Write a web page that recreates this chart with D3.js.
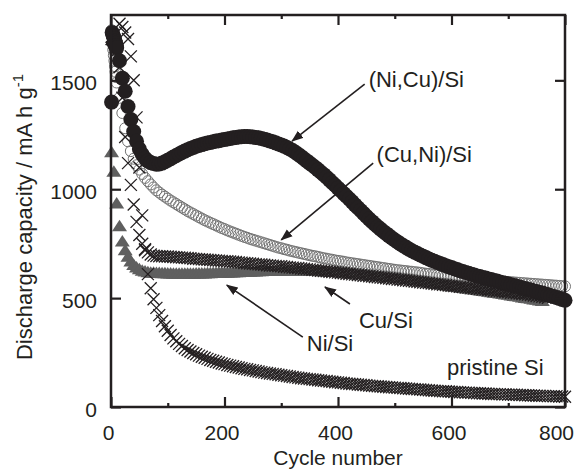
<!DOCTYPE html>
<html>
<head>
<meta charset="utf-8">
<script src="https://cdn.jsdelivr.net/npm/d3@7"></script>
<style>
  body { margin: 0; background: #fff; }
  svg { display: block; font-family: "Liberation Sans", Arial, sans-serif; }
  .tick text { font-size: 21px; fill: #231f20; }
  .tick line { stroke: #231f20; stroke-width: 2.2; }
  .annot { font-size: 22px; fill: #231f20; }
  .axis-title { font-size: 22px; fill: #231f20; }
  .x-title { font-size: 21px; }
</style>
</head>
<body>
<svg id="chart"></svg>
<script>
const cycles = [1, 2, 3, 4, 5, 6, 7, 8, 9, 10, 15, 20, 25, 30, 35, 40, 45, 50, 55, 60, 65, 70, 75]
  .concat(d3.range(80, 801, 5));

// (Ni,Cu)/Si - filled black circles
const niCuSi = [1400, 1720, 1712, 1705, 1698, 1690, 1680, 1670, 1660, 1650, 1590, 1510, 1450, 1380, 1320, 1265, 1220, 1185, 1160, 1142, 1130, 1122, 1118,
  1115, 1116, 1120, 1126, 1133, 1140, 1148, 1155, 1162, 1169,
  1175, 1181, 1187, 1192, 1197, 1201, 1205, 1209, 1212, 1215,
  1218, 1221, 1223, 1226, 1228, 1231, 1233, 1236, 1238, 1240,
  1241, 1242, 1242, 1241, 1240, 1238, 1236, 1233, 1230, 1226,
  1222, 1218, 1213, 1208, 1203, 1198, 1192, 1185, 1178, 1169,
  1160, 1150, 1140, 1130, 1120, 1110, 1100, 1089, 1078, 1067,
  1055, 1043, 1030, 1018, 1005, 993, 980, 968, 955, 942,
  928, 915, 902, 889, 876, 863, 851, 839, 828, 817,
  806, 796, 786, 776, 767, 758, 749, 741, 733, 725,
  718, 711, 705, 698, 692, 686, 680, 674, 669, 664,
  659, 654, 649, 644, 640, 635, 631, 626, 622, 618,
  614, 610, 606, 602, 599, 595, 592, 588, 585, 581,
  578, 574, 571, 568, 565, 561, 558, 554, 551, 547,
  544, 540, 537, 533, 530, 526, 523, 519, 515, 511,
  507, 503, 499, 494, 490];

// (Cu,Ni)/Si - open grey circles
const cuNiSi = [1730, 1700, 1670, 1640, 1615, 1590, 1565, 1540, 1515, 1490, 1420, 1350, 1280, 1220, 1175, 1140, 1110, 1090, 1070, 1052, 1037, 1022, 1008,
  995, 985, 975, 966, 957, 948, 940, 932, 924, 916,
  908, 900, 893, 886, 879, 872, 865, 858, 852, 846,
  840, 834, 828, 822, 817, 811, 806, 801, 796, 791,
  786, 781, 777, 772, 768, 764, 760, 756, 752, 748,
  744, 740, 736, 732, 729, 725, 722, 718, 715, 712,
  709, 706, 703, 700, 697, 694, 692, 689, 686, 683,
  681, 678, 676, 673, 671, 669, 667, 664, 662, 660,
  658, 656, 654, 652, 650, 648, 646, 644, 642, 640,
  638, 636, 634, 632, 630, 628, 627, 625, 624, 622,
  621, 619, 618, 616, 614, 612, 611, 609, 608, 606,
  605, 603, 602, 600, 599, 597, 596, 594, 593, 591,
  590, 589, 588, 586, 585, 584, 583, 581, 580, 579,
  578, 577, 576, 575, 574, 573, 572, 571, 570, 569,
  568, 567, 566, 565, 564, 563, 562, 561, 560, 559,
  558, 557, 556, 555, 554];

// Cu/Si - crosses
const cuSi = [1700, 1700, 1695, 1690, 1685, 1675, 1665, 1655, 1645, 1635, 1560, 1420, 1240, 1120, 1020, 930, 850, 790, 750, 725, 710, 700, 695,
  693, 692, 692, 691, 691, 690, 689, 688, 687, 686,
  685, 684, 683, 681, 680, 679, 678, 677, 676, 675,
  674, 673, 672, 671, 670, 669, 668, 667, 666, 664,
  663, 661, 660, 659, 658, 656, 655, 654, 653, 651,
  650, 649, 648, 647, 646, 644, 643, 641, 640, 639,
  638, 636, 635, 633, 632, 630, 629, 627, 626, 624,
  623, 621, 620, 618, 617, 615, 614, 612, 611, 609,
  608, 606, 605, 603, 602, 600, 599, 597, 596, 594,
  593, 591, 590, 588, 587, 585, 584, 582, 581, 579,
  578, 576, 575, 573, 572, 570, 569, 567, 566, 564,
  563, 561, 560, 558, 557, 555, 554, 552, 551, 549,
  548, 546, 545, 543, 542, 540, 539, 537, 536, 534,
  533, 531, 530, 528, 527, 525, 524, 522, 521, 519,
  518, 516, 514, 512, 510, 508, 506, 504, 502, null,
  null, null, null, null, null];

// Ni/Si - filled grey triangles
const niSi = [1170, null, null, null, 1080, null, null, null, null, 935, 830, 760, 720, 690, 668, 652, 640, 632, 626, 622, 619, 617, 616,
  615, 615, 614, 614, 613, 613, 612, 612, 612, 612,
  612, 612, 612, 612, 613, 613, 613, 613, 614, 614,
  615, 615, 616, 616, 617, 617, 618, 618, 619, 619,
  620, 620, 621, 621, 622, 622, 623, 623, 624, 624,
  624, 624, 625, 625, 625, 625, 625, 625, 625, 625,
  625, 625, 625, 625, 625, 625, 624, 624, 623, 623,
  622, 622, 621, 621, 620, 619, 618, 617, 616, 614,
  613, 612, 611, 609, 608, 607, 606, 604, 603, 601,
  600, 599, 598, 596, 595, 593, 592, 590, 588, 587,
  585, 583, 581, 580, 578, 576, 574, 571, 569, 566,
  564, 562, 560, 557, 555, 553, 551, 549, 547, 545,
  543, 541, 539, 537, 535, 533, 531, 529, 527, 525,
  523, 521, 519, 517, 515, 512, 510, 508, 506, 503,
  501, 499, 497, 494, 492, 489, 487, null, null, null,
  null, null, null, null, null];

// pristine Si - crosses
const pristineSi = [1690, 1690, 1690, 1685, 1680, 1675, 1670, 1665, 1660, 1655, 1760, 1745, 1720, 1690, 1610, 1500, 1330, 1100, 880, 720, 610, 545, 495,
  455, 422, 395, 371, 350, 331, 315, 302, 290, 280,
  270, 262, 255, 248, 242, 236, 231, 226, 221, 216,
  212, 208, 204, 200, 197, 193, 190, 187, 184, 181,
  178, 175, 173, 170, 168, 165, 163, 160, 158, 156,
  154, 152, 150, 148, 146, 144, 142, 140, 138, 136,
  134, 132, 131, 129, 128, 126, 125, 123, 122, 120,
  119, 117, 116, 114, 113, 111, 110, 108, 107, 106,
  105, 103, 102, 101, 100, 98, 97, 96, 95, 94,
  93, 92, 91, 90, 89, 88, 87, 86, 85, 84,
  83, 82, 81, 80, 79, 78, 77, 76, 75, 74,
  73, 72, 72, 71, 70, 69, 69, 68, 67, 66,
  66, 65, 64, 63, 63, 62, 62, 61, 60, 60,
  59, 59, 58, 58, 57, 57, 56, 56, 55, 55,
  54, 54, 53, 53, 52, 52, 51, 51, 50, 50,
  49, 49, 48, 48, 47];

const xTicks = [0, 200, 400, 600, 800];
const xMinorTicks = [100, 300, 500, 700];
const yTicks = [0, 500, 1000, 1500];

class CapacityChart {

  constructor(_config) {
    this.config = {
      parentElement: _config.parentElement,
      containerWidth: _config.containerWidth || 581,
      containerHeight: _config.containerHeight || 470,
      margin: _config.margin || { top: 15, right: 16, bottom: 63, left: 111 }
    };
    this.initVis();
  }

  initVis() {
    let vis = this;

    vis.width = vis.config.containerWidth - vis.config.margin.left - vis.config.margin.right;
    vis.height = vis.config.containerHeight - vis.config.margin.top - vis.config.margin.bottom;

    vis.xScale = d3.scaleLinear().domain([0, 800]).range([0, vis.width]);
    vis.yScale = d3.scaleLinear().domain([0, 1800]).range([vis.height, 0]);

    vis.svg = d3.select(vis.config.parentElement)
      .attr('width', vis.config.containerWidth)
      .attr('height', vis.config.containerHeight);

    vis.svg.append('defs').append('marker')
      .attr('id', 'arrow')
      .attr('viewBox', '0 -5 12 10')
      .attr('refX', 11)
      .attr('refY', 0)
      .attr('markerUnits', 'userSpaceOnUse')
      .attr('markerWidth', 12)
      .attr('markerHeight', 10)
      .attr('orient', 'auto')
      .append('path')
      .attr('d', 'M0,-4.5L12,0L0,4.5Z')
      .attr('fill', '#231f20');

    vis.chart = vis.svg.append('g')
      .attr('transform', `translate(${vis.config.margin.left},${vis.config.margin.top})`);

    // series tables, one row per read-off point
    const table = arr => cycles.map((c, i) => ({ cycle: c, value: arr[i] })).filter(d => d.value != null);
    vis.series = [
      { key: 'cuNiSi', data: table(cuNiSi), shape: 'openCircle' },
      { key: 'niSi', data: table(niSi), shape: 'triangle' },
      { key: 'pristineSi', data: table(pristineSi), shape: 'cross' },
      { key: 'cuSi', data: table(cuSi), shape: 'cross' },
      { key: 'niCuSi', data: table(niCuSi), shape: 'dot' }
    ];

    vis.annotations = [
      { text: '(Ni,Cu)/Si', at: [454, 1470], from: [447, 1483], to: [319, 1221] },
      { text: '(Cu,Ni)/Si', at: [468, 1125], from: [462, 1120], to: [300, 767] },
      { text: 'Cu/Si', at: [437, 363], from: [421, 473], to: [377, 551] },
      { text: 'Ni/Si', at: [345, 257], from: [338, 321], to: [204, 560] },
      { text: 'pristine Si', at: [592, 147] }
    ];

    vis.renderVis();
  }

  renderVis() {
    let vis = this;

    const shapes = {
      openCircle: g => g.append('circle').attr('r', 5.5)
        .attr('fill', 'none').attr('stroke', '#737373').attr('stroke-width', 1),
      triangle: g => g.append('path').attr('d', 'M0,-6.5L7.5,5L-7.5,5Z')
        .attr('fill', '#5f5f5f'),
      cross: g => g.append('path').attr('d', 'M-6,-6L6,6M6,-6L-6,6')
        .attr('fill', 'none').attr('stroke', '#231f20').attr('stroke-width', 1.3),
      dot: g => g.append('circle').attr('r', 7.5).attr('fill', '#231f20')
    };

    vis.series.forEach(s => {
      vis.chart.append('g')
        .attr('class', `series ${s.key}`)
        .selectAll('.point')
        .data(s.data)
        .join('g')
        .attr('class', 'point')
        .attr('transform', d => `translate(${vis.xScale(d.cycle)},${vis.yScale(d.value)})`)
        .each(function() { shapes[s.shape](d3.select(this)); });
    });

    // frame
    vis.chart.append('rect')
      .attr('width', vis.width)
      .attr('height', vis.height)
      .attr('fill', 'none')
      .attr('stroke', '#231f20')
      .attr('stroke-width', 2.5);

    // ticks point inwards on all four sides
    const fmt = d3.format('d');
    const xAxis = d3.axisBottom(vis.xScale).tickValues(xTicks).tickSize(-10).tickPadding(18).tickFormat(fmt);
    const xAxisMinor = d3.axisBottom(vis.xScale).tickValues(xMinorTicks).tickSize(-4).tickFormat('');
    const xAxisTop = d3.axisTop(vis.xScale).tickValues(xTicks).tickSize(-10).tickFormat('');
    const xAxisTopMinor = d3.axisTop(vis.xScale).tickValues(xMinorTicks).tickSize(-4).tickFormat('');
    const yAxis = d3.axisLeft(vis.yScale).tickValues(yTicks).tickSize(-10).tickPadding(14).tickFormat(fmt);
    const yAxisRight = d3.axisRight(vis.yScale).tickValues(yTicks).tickSize(-10).tickFormat('');

    const clean = g => g.call(g => g.select('.domain').remove());

    vis.chart.append('g').attr('transform', `translate(0,${vis.height})`).call(xAxis).call(clean)
      .selectAll('text').attr('dx', d => d === 800 ? -9 : -3);
    vis.chart.append('g').attr('transform', `translate(0,${vis.height})`).call(xAxisMinor).call(clean);
    vis.chart.append('g').call(xAxisTop).call(clean);
    vis.chart.append('g').call(xAxisTopMinor).call(clean);
    vis.chart.append('g').call(yAxis).call(clean)
      .selectAll('text').attr('dy', '0.45em');
    vis.chart.append('g').attr('transform', `translate(${vis.width},0)`).call(yAxisRight).call(clean);

    // axis titles
    vis.chart.append('text')
      .attr('class', 'axis-title x-title')
      .attr('x', vis.width / 2)
      .attr('y', vis.height + 58)
      .attr('text-anchor', 'middle')
      .text('Cycle number');

    const yTitle = vis.chart.append('text')
      .attr('class', 'axis-title')
      .attr('transform', `translate(${-79},${vis.height / 2 + 6}) rotate(-90)`)
      .attr('text-anchor', 'middle');
    yTitle.append('tspan').text('Discharge capacity / mA h g');
    yTitle.append('tspan').attr('font-size', 15).attr('dy', -9).text('-1');

    // series labels and arrows
    const ann = vis.chart.append('g').attr('class', 'annotations');
    vis.annotations.filter(a => a.from).forEach(a => {
      ann.append('line')
        .attr('x1', vis.xScale(a.from[0])).attr('y1', vis.yScale(a.from[1]))
        .attr('x2', vis.xScale(a.to[0])).attr('y2', vis.yScale(a.to[1]))
        .attr('stroke', '#231f20')
        .attr('stroke-width', 1.6)
        .attr('marker-end', 'url(#arrow)');
    });
    ann.selectAll('text')
      .data(vis.annotations)
      .join('text')
      .attr('class', 'annot')
      .attr('x', d => vis.xScale(d.at[0]))
      .attr('y', d => vis.yScale(d.at[1]))
      .text(d => d.text);
  }
}

new CapacityChart({ parentElement: '#chart' });
</script>
</body>
</html>
